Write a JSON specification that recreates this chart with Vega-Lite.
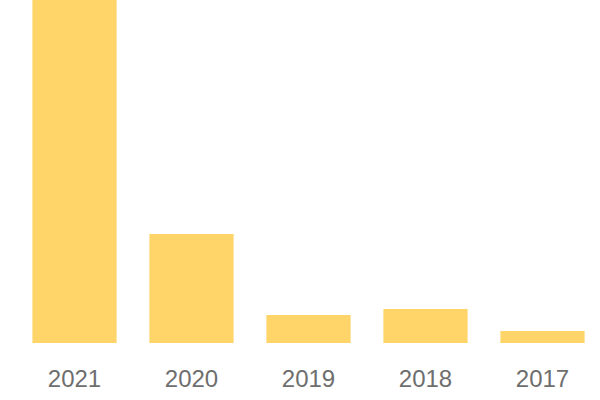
{
  "$schema": "https://vega.github.io/schema/vega-lite/v6.json",
  "width": 585,
  "height": 343,
  "autosize": "none",
  "padding": {"left": 16, "top": 0, "right": 0, "bottom": 57},
  "background": "white",
  "config": {"view": {"stroke": null}},
  "data": {"values": [
    {"year": "2021", "value": 343},
    {"year": "2020", "value": 109},
    {"year": "2019", "value": 28},
    {"year": "2018", "value": 34},
    {"year": "2017", "value": 12}
  ]},
  "mark": {"type": "bar", "color": "#FFD56A"},
  "encoding": {
    "x": {"field": "year", "type": "nominal", "sort": null, "scale": {"paddingInner": 0.28, "paddingOuter": 0.14},
      "axis": {"title": null, "labelAngle": 0, "ticks": false, "domain": false, "labelFont": "Liberation Sans", "labelFontSize": 24, "labelColor": "#6e6e6e", "labelPadding": 24}},
    "y": {"field": "value", "type": "quantitative", "scale": {"domain": [0, 343], "nice": false}, "axis": null}
  }
}
